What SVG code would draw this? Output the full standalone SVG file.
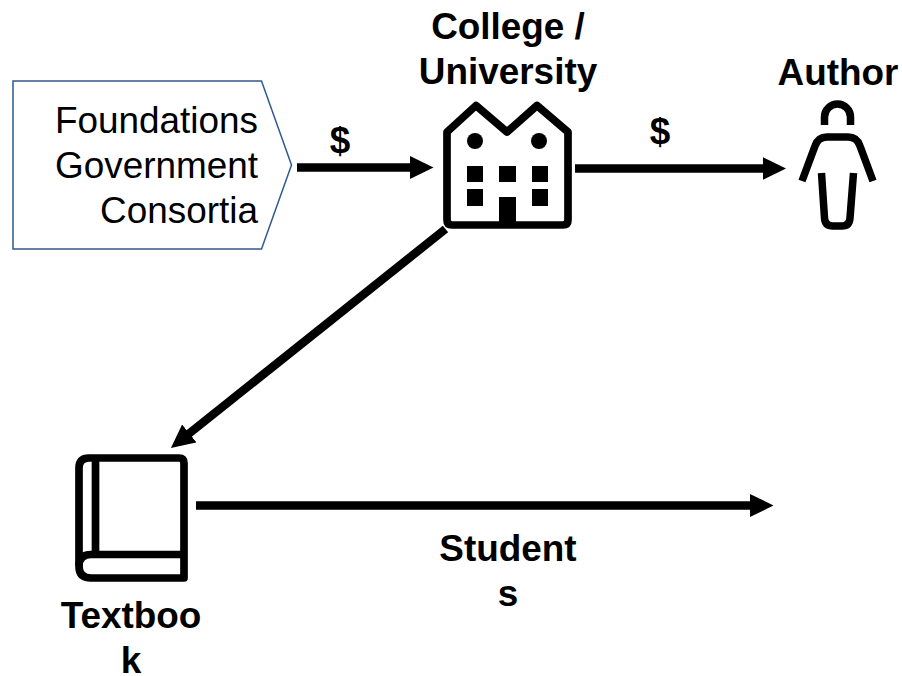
<svg xmlns="http://www.w3.org/2000/svg" width="902" height="676" viewBox="0 0 902 676">
<style>
text{font-family:"Liberation Sans",Arial,sans-serif;font-size:36.9px;fill:#000}
.b{font-weight:bold;text-anchor:middle}
.r{text-anchor:end}
.i{fill:none;stroke:#000;stroke-width:7.700;stroke-linejoin:round}
.p{fill:none;stroke:#000;stroke-width:7.500}
.c{fill:none;stroke:#000;stroke-width:8.500}
</style>
<defs>
<marker id="arr" markerUnits="userSpaceOnUse" markerWidth="24" markerHeight="24" refX="1" refY="11.500" orient="auto"><path d="M0 0L23.500 11.500L0 23Z" fill="#000"/></marker>
</defs>
<rect width="902" height="676" fill="#fff"/>
<g id="connectors">
<line class="c" x1="297" y1="167.500" x2="411" y2="167.500" marker-end="url(#arr)"/>
<line class="c" x1="575" y1="168.500" x2="763.500" y2="168.500" marker-end="url(#arr)"/>
<line class="c" x1="445.500" y1="229" x2="188.500" y2="434" marker-end="url(#arr)"/>
<line class="c" x1="196" y1="505.500" x2="751" y2="505.500" marker-end="url(#arr)"/>
</g>
<g id="funders">
<path d="M13 81H261.500L291.500 165L261.500 249H13Z" fill="#fff" stroke="#2f5a8f" stroke-width="1.500"/>
<text class="r" x="258" y="133">Foundations</text>
<text class="r" x="258" y="178">Government</text>
<text class="r" x="258" y="223">Consortia</text>
</g>
<g id="label-1"><text class="b" x="340" y="153">$</text></g>
<g id="label-2"><text class="b" x="660" y="143.500">$</text></g>
<g id="college">
<text class="b" x="508" y="38.500">College /</text>
<text class="b" x="508" y="83.500">University</text>
<path class="i" d="M447 132L476 105.500L507 132L537 105.500L568 132V220Q568 225 563 225H452Q447 225 447 220Z"/>
<circle cx="475" cy="141" r="8"/><circle cx="539" cy="141" r="8"/>
<path d="M467 166h16v16h-16zM499 166h17v16h-17zM532 166h16v16h-16zM467 189h16v17h-16zM532 189h16v17h-16zM499 197h17v28h-17z"/>
</g>
<g id="author">
<text class="b" x="838" y="85">Author</text>
<path class="p" d="M824.500 125V117A13 13 0 0 1 850.500 117V125"/>
<path class="p" d="M802 181L815 146Q818 137 827 137H848Q857 137 860 146L873 181"/>
<path class="p" d="M821.500 173L824.500 218Q825 226 833 226H842Q849.500 226 850 218L853.500 173"/>
</g>
<g id="textbook">
<path class="i" d="M89 458H179Q184 458 184 463V578H91Q79 578 79 566V468Q79 458 89 458Z"/>
<path class="i" d="M95.500 458V554.500M79 566Q79 554.500 91 554.500H184"/>
<text class="b" x="131" y="628">Textboo</text>
<text class="b" x="131" y="673">k</text>
</g>
<g id="students">
<text class="b" x="508" y="561">Student</text>
<text class="b" x="508" y="606">s</text>
</g>
</svg>
